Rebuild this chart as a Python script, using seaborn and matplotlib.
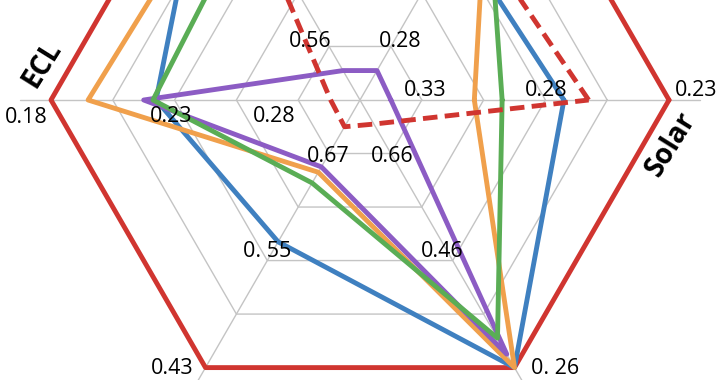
import numpy as np
import pandas as pd
import matplotlib
matplotlib.use("Agg")
import matplotlib.pyplot as plt
import seaborn as sns

# axes run counter-clockwise from the right: Solar, top-right, top-left, ECL, bottom-left, bottom-right
n_axes = 6
axis_titles = ["Solar", "ECL"]
axis_title_index = [0, 3]

# normalised scores (outer ring = 1)
series_names = ["best", "blue", "orange", "purple", "green", "baseline"]
best = [1.0, 1.0, 1.0, 1.0, 1.0, 1.0]
blue = [0.66, 0.62, 0.98, 0.66, 0.53, 1.0]
orange = [0.37, 0.82, 0.85, 0.88, 0.27, 1.0]
purple = [0.10, 0.11, 0.11, 0.70, 0.25, 0.95]
green = [0.46, 0.82, 0.71, 0.67, 0.31, 0.89]
baseline = [0.74, 0.68, 0.72, 0.095, 0.10, 0.09]

# per-axis scale labels at rings 1, 3, 5
ring_levels = [0.2, 0.6, 1.0]
solar_ticks = ["0.33", "0.28", "0.23"]
topright_ticks = ["0.28"]
topleft_ticks = ["0.56"]
ecl_ticks = ["0.28", "0.23", "0.18"]
bottomleft_ticks = ["0.67", "0. 55", "0.43"]
bottomright_ticks = ["0.66", "0.46", "0. 26"]

colors = {
    "best": "#d03530",
    "blue": "#3f80c0",
    "orange": "#f0a04c",
    "purple": "#8c5cc4",
    "green": "#5aad55",
    "baseline": "#d03530",
}

sns.set_style("white")
plt.rcParams["font.family"] = ["Open Sans", "DejaVu Sans"]

angles = np.arange(n_axes + 1) * 2 * np.pi / n_axes
rows = []
for name, vals in zip(series_names, [best, blue, orange, purple, green, baseline]):
    for i, a in enumerate(angles):
        rows.append({"series": name, "theta": a, "r": vals[i % n_axes]})
df = pd.DataFrame(rows)

fig = plt.figure(figsize=(7.2, 3.8), dpi=100)
rmax = 1.12
R = 309 * rmax
ax = fig.add_axes(
    [(360 - R) / 720, (280 - R) / 380, 2 * R / 720, 2 * R / 380],
    projection="polar",
)
ax.set_ylim(0, rmax)
ax.set_xticks([])
ax.set_yticks([])
ax.grid(False)
ax.spines["polar"].set_visible(False)

# hexagonal grid
for ring in np.arange(1, 6) / 5:
    ax.plot(angles, [ring] * len(angles), color="#c4c4c4", lw=1.0, zorder=0)
for a in angles[:-1]:
    ax.plot([a, a], [0, 1.1], color="#c4c4c4", lw=1.0, zorder=0)

sns.lineplot(
    data=df, x="theta", y="r", hue="series", style="series",
    hue_order=series_names, style_order=series_names,
    palette=colors,
    dashes={n: "" for n in series_names[:-1]} | {"baseline": (3, 1.5)},
    sort=False, estimator=None, linewidth=3.5, legend=False, ax=ax,
)
ax.set_xlabel("")
ax.set_ylabel("")

# scale labels (offsets in pixels from ring/axis crossing)
tick_sets = [solar_ticks, topright_ticks, topleft_ticks, ecl_ticks,
             bottomleft_ticks, bottomright_ticks]
tick_offsets = [
    [(3, 10), (1, 10), (27, 10)],
    [(9, 5)],
    [(-19, 5)],
    [(-24, -17), (-3, -17), (-25, -18)],
    [(-1, -3), (0, 9), (-33, -1)],
    [(1, -3), (-11, 9), (41, -1)],
]
for k, (labels, offs) in enumerate(zip(tick_sets, tick_offsets)):
    for lab, lev, off in zip(labels, ring_levels, offs):
        ax.annotate(lab, xy=(angles[k], lev), xytext=off,
                    textcoords="offset pixels", ha="center", va="center",
                    fontsize=15.5, color="black")

title_offsets = [(2, -44), (-9, 36)]
for name, k, off in zip(axis_titles, axis_title_index, title_offsets):
    ax.annotate(name, xy=(angles[k], 1.0), xytext=off,
                textcoords="offset pixels", ha="center", va="center",
                fontsize=20, fontweight="bold", rotation=58, color="black")

fig.savefig("out.png", dpi=100, facecolor="white")
